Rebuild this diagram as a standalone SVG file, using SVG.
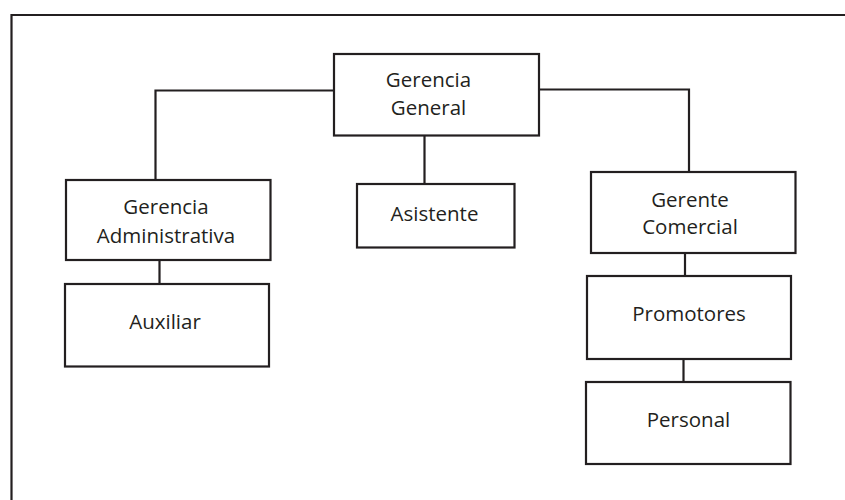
<svg xmlns="http://www.w3.org/2000/svg" width="845" height="500" viewBox="0 0 845 500">
<style>
.box{fill:#fff;stroke:#231f20;stroke-width:2.2}
.ln{fill:none;stroke:#231f20;stroke-width:2.2}
text{font-family:"Open Sans","Liberation Sans",Arial,sans-serif;font-size:20.5px;fill:#231f20;text-anchor:middle}
</style>
<rect width="845" height="500" fill="#fff"/>
<path class="ln" d="M11.5,500 V15 H845"/>
<g id="connectors">
<path class="ln" d="M334,90.5 H155.5 V180"/>
<path class="ln" d="M539,89.5 H689 V172"/>
<path class="ln" d="M424.5,135.5 V184"/>
<path class="ln" d="M159.5,260 V284"/>
<path class="ln" d="M685,253 V276"/>
<path class="ln" d="M683.5,359 V382"/>
</g>
<g id="gerencia-general">
<rect class="box" x="334" y="54" width="205" height="81.5"/>
<text x="428.5" y="86.5">Gerencia</text>
<text x="428.5" y="115">General</text>
</g>
<g id="gerencia-administrativa">
<rect class="box" x="66" y="180" width="204.5" height="80"/>
<text x="166" y="214">Gerencia</text>
<text x="166" y="242.5">Administrativa</text>
</g>
<g id="asistente">
<rect class="box" x="357" y="184" width="157.5" height="63.5"/>
<text x="434.5" y="220.5">Asistente</text>
</g>
<g id="gerente-comercial">
<rect class="box" x="591" y="172" width="204.5" height="81"/>
<text x="690" y="206.5">Gerente</text>
<text x="690" y="234">Comercial</text>
</g>
<g id="auxiliar">
<rect class="box" x="65" y="284" width="204" height="82.5"/>
<text x="165" y="329">Auxiliar</text>
</g>
<g id="promotores">
<rect class="box" x="587" y="276" width="204" height="83"/>
<text x="689" y="321">Promotores</text>
</g>
<g id="personal">
<rect class="box" x="586" y="382" width="204.5" height="82"/>
<text x="688.5" y="426.5">Personal</text>
</g>
</svg>
